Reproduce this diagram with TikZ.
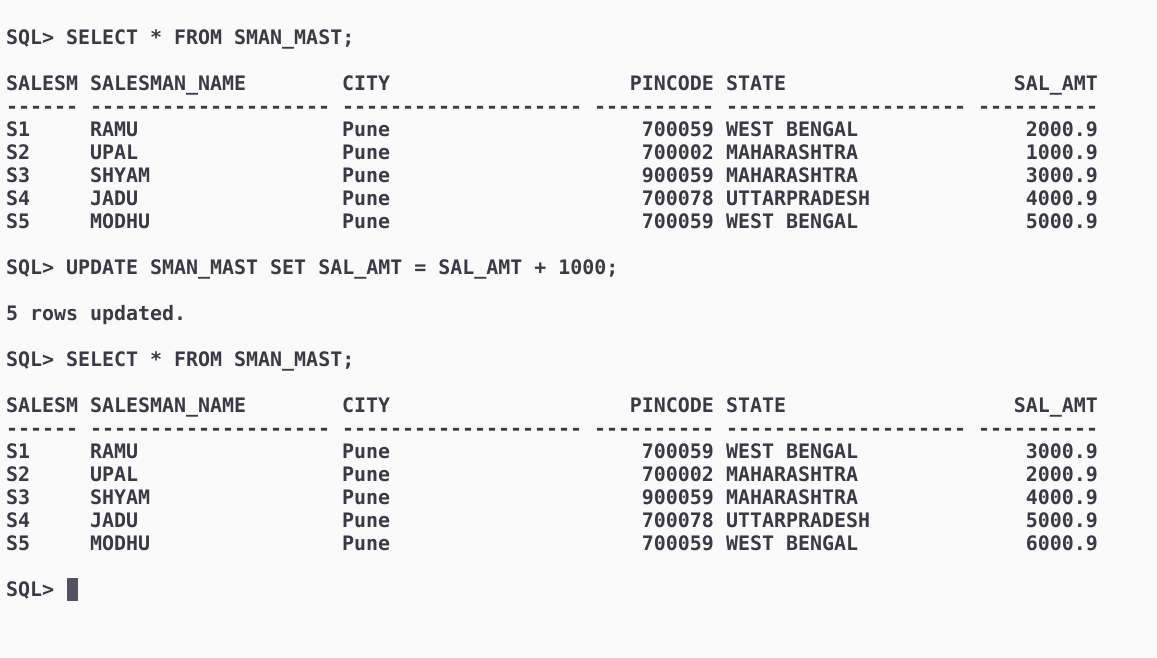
\documentclass[tikz,border=0pt]{standalone}
\usepackage{fontspec}
\setmonofont{DejaVu Sans Mono}
\definecolor{bgc}{RGB}{250,250,250}
\definecolor{txtc}{RGB}{58,58,70}
\definecolor{curc}{RGB}{82,82,98}
\tikzset{
  txt/.style={inner sep=0pt, outer sep=0pt, anchor=base west, text=txtc,
    font=\fontsize{19.95}{23}\selectfont\ttfamily\bfseries},
  txte/.style={txt, anchor=base east}
}
\newcommand\xo{6}
\newcommand\yb{44}
\newcommand\dashrun[1]{\foreach \i in {1,...,#1}{-}}
% data row: row index, id, name, city, pin, state, amount
\newcommand\drow[7]{%
  \node[txt]  (id#1) at ({\xo},{\yb+23*#1}) {#2};
  \node[txt]  (nm#1) at ({\xo+12*7},{\yb+23*#1}) {#3};
  \node[txt]  (ct#1) at ({\xo+12*28},{\yb+23*#1}) {#4};
  \node[txte] (pc#1) at ({\xo+12*59},{\yb+23*#1}) {#5};
  \node[txt]  (st#1) at ({\xo+12*60},{\yb+23*#1}) {#6};
  \node[txte] (am#1) at ({\xo+12*91},{\yb+23*#1}) {#7};
}
\newcommand\dashline[1]{%
  \node[txt] (da#1) at ({\xo},{\yb+23*#1}) {\dashrun{6}};
  \node[txt] (db#1) at ({\xo+12*7},{\yb+23*#1}) {\dashrun{20}};
  \node[txt] (dc#1) at ({\xo+12*28},{\yb+23*#1}) {\dashrun{20}};
  \node[txt] (dd#1) at ({\xo+12*49},{\yb+23*#1}) {\dashrun{10}};
  \node[txt] (de#1) at ({\xo+12*60},{\yb+23*#1}) {\dashrun{20}};
  \node[txt] (df#1) at ({\xo+12*81},{\yb+23*#1}) {\dashrun{10}};
}
\begin{document}
\begin{tikzpicture}[x=1pt,y=-1pt]
\fill[bgc] (0,0) rectangle (1157,657);
\useasboundingbox (0,0) rectangle (1157,657);

\node[txt] (q1) at ({\xo},{\yb+23*0}) {SQL> SELECT * FROM SMAN\_MAST;};
\drow{2}{SALESM}{SALESMAN\_NAME}{CITY}{PINCODE}{STATE}{SAL\_AMT}
\dashline{3}
\drow{4}{S1}{RAMU}{Pune}{700059}{WEST BENGAL}{2000.9}
\drow{5}{S2}{UPAL}{Pune}{700002}{MAHARASHTRA}{1000.9}
\drow{6}{S3}{SHYAM}{Pune}{900059}{MAHARASHTRA}{3000.9}
\drow{7}{S4}{JADU}{Pune}{700078}{UTTARPRADESH}{4000.9}
\drow{8}{S5}{MODHU}{Pune}{700059}{WEST BENGAL}{5000.9}

\node[txt] (q2) at ({\xo},{\yb+23*10}) {SQL> UPDATE SMAN\_MAST SET SAL\_AMT = SAL\_AMT + 1000;};
\node[txt] (msg) at ({\xo},{\yb+23*12}) {5 rows updated.};
\node[txt] (q3) at ({\xo},{\yb+23*14}) {SQL> SELECT * FROM SMAN\_MAST;};

\drow{16}{SALESM}{SALESMAN\_NAME}{CITY}{PINCODE}{STATE}{SAL\_AMT}
\dashline{17}
\drow{18}{S1}{RAMU}{Pune}{700059}{WEST BENGAL}{3000.9}
\drow{19}{S2}{UPAL}{Pune}{700002}{MAHARASHTRA}{2000.9}
\drow{20}{S3}{SHYAM}{Pune}{900059}{MAHARASHTRA}{4000.9}
\drow{21}{S4}{JADU}{Pune}{700078}{UTTARPRADESH}{5000.9}
\drow{22}{S5}{MODHU}{Pune}{700059}{WEST BENGAL}{6000.9}

\node[txt] (prompt) at ({\xo},{\yb+23*24}) {SQL>};
\fill[curc] (66.5,578) rectangle (77.5,600.5);
\end{tikzpicture}
\end{document}
